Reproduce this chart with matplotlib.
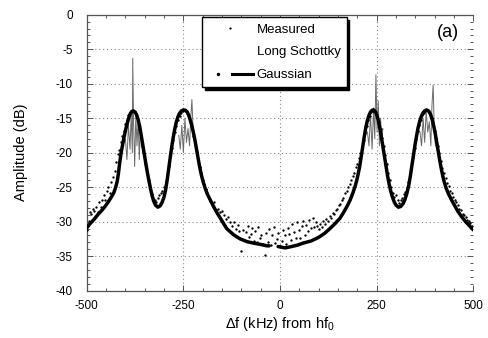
import numpy as np
import matplotlib
matplotlib.use("Agg")
import matplotlib.pyplot as plt
from matplotlib.lines import Line2D
from matplotlib.legend_handler import HandlerTuple
from matplotlib.ticker import MultipleLocator

plt.rcParams['font.family'] = ['Liberation Sans', 'DejaVu Sans']
plt.rcParams['mathtext.fontset'] = 'custom'
plt.rcParams['mathtext.rm'] = 'Liberation Sans'
plt.rcParams['mathtext.it'] = 'Liberation Sans'

# ---------------- data ----------------
x_ticks = [-500, -250, 0, 250, 500]
y_ticks = [0, -5, -10, -15, -20, -25, -30, -35, -40]

gauss_x = [-500, -490, -480, -470, -460, -450, -444, -436, -430, -425, -421, -418, -415, -411,
           -407, -403, -399, -395, -391, -387, -383, -379, -375, -371, -367, -363, -359, -355,
           -351, -347, -343, -339, -335, -331, -327, -322, -316, -310, -305, -300, -296, -292,
           -288, -284, -280, -276, -272, -268, -264, -260, -255, -250, -245, -240, -236, -232,
           -228, -224, -220, -216, -212, -208, -204, -199, -194, -188, -180, -172, -162, -151,
           -138, -120, -103, -85, -69, -50, -34, -28, np.nan,
           -5, 4, 13, 30, 45, 60, 80, 99, 115, 129, 142, 155, 165, 174, 181, 188, 194, 198, 202,
           206, 210, 214, 218, 222, 226, 230, 234, 238, 242, 246, 250, 254, 258, 262, 266, 270,
           274, 278, 282, 286, 290, 295, 300, 306, 312, 318, 323, 328, 333, 337, 341, 345, 349,
           353, 357, 361, 365, 369, 374, 379, 384, 389, 393, 397, 401, 405, 409, 413, 417, 421,
           425, 430, 436, 444, 452, 460, 470, 480, 490, 500]
gauss_y = [-30.9, -30.2, -29.6, -28.9, -28.3, -27.6, -27.1, -26.4, -25.8, -25.0, -24.1, -23.0,
           -21.6, -20.0, -18.8, -17.6, -16.6, -15.7, -14.9, -14.3, -14.0, -13.95, -14.1, -14.5,
           -15.2, -16.2, -17.5, -18.9, -20.3, -21.6, -22.9, -24.1, -25.2, -26.2, -27.0, -27.6,
           -27.9, -27.7, -27.2, -26.4, -25.4, -24.0, -22.3, -20.7, -19.1, -17.7, -16.5, -15.5,
           -14.8, -14.3, -13.95, -13.8, -13.85, -14.1, -14.6, -15.3, -16.1, -17.1, -18.2, -19.5,
           -20.8, -22.0, -23.1, -24.2, -25.1, -26.0, -26.9, -27.8, -28.8, -29.8, -31.0, -31.9,
           -32.5, -32.9, -33.1, -33.3, -33.5, -33.5, np.nan,
           -33.6, -33.7, -33.8, -33.6, -33.4, -33.1, -32.8, -32.3, -31.7, -31.0, -30.3, -29.5,
           -28.6, -27.7, -26.9, -25.9, -24.9, -24.1, -23.1, -22.0, -20.6, -19.1, -17.6, -16.3,
           -15.3, -14.6, -14.1, -13.85, -13.8, -14.0, -14.5, -15.3, -16.4, -17.7, -19.1, -20.6,
           -22.0, -23.3, -24.5, -25.5, -26.3, -27.1, -27.6, -27.9, -27.8, -27.4, -26.8, -25.9,
           -24.7, -23.4, -21.9, -20.4, -18.9, -17.6, -16.4, -15.5, -14.8, -14.3, -13.95, -13.8,
           -13.95, -14.4, -15.1, -16.0, -17.1, -18.4, -19.8, -21.1, -22.3, -23.4, -24.3, -25.2,
           -26.0, -26.9, -27.7, -28.5, -29.3, -30.0, -30.6, -31.2]

schottky_x = [-400, -396, -392, -388, -385, -382, -381, -379, -376, -373, -370, -367, -364, -361,
              -358, -355, np.nan,
              -262, -258, -254, -250, -246, -242, -238, -234, -231, -228, -225, -222, np.nan,
              226, 230, 234, 238, 242, 245, 248, 251, 254, 257, 260, 263, 266, np.nan,
              362, 366, 370, 374, 378, 382, 386, 390, 393, 396, 399, 402]
schottky_y = [-18, -21, -16, -19.5, -14.5, -20, -6.3, -15, -22, -14.5, -19, -15, -21, -16,
              -18, -20, np.nan,
              -17.5, -19.5, -16, -20, -15, -18.5, -16.5, -19, -15, -12.3, -16.5, -18, np.nan,
              -17, -19, -14.5, -19.5, -13.5, -18, -8.7, -17, -12.5, -19, -15, -18.5, -16.5, np.nan,
              -17, -19, -15, -18.5, -14, -17, -15.5, -19, -13, -10.2, -17, -19]

measured_x = [-498, -495, -492, -488, -485, -480, -476, -472, -468, -464, -460, -456, -452, -448,
              -444, -440, -436, -432, -428, -424, -420, -416, -412, -408, -404, -400, -396, -392,
              -388, -384, -380, -376, -372, -368, -364, -360, -356, -352, -348, -344, -340, -336,
              -332, -328, -324, -320, -316, -312, -308, -304, -300, -296, -292, -288, -284, -280,
              -276, -272, -268, -264, -260, -256, -252, -248, -244, -240, -236, -232, -228, -224,
              -220, -216, -212, -208, -204, -200, -196, -192, -188, -184, -180, -175, -170, -165,
              -160, -155, -150, -145, -140, -135, -130, -125, -120, -115, -110, -105, -100, -96,
              -92, -88, -84, -80, -76, -72, -68, -64, -60, -56, -52, -48, -44, -40, -36, -32, -28,
              -24, -20, -16, -12, -8, -4, 0, 4, 8, 12, 16, 20, 24, 28, 32, 36, 40, 44, 48, 52, 56,
              60, 64, 68, 72, 76, 80, 84, 88, 92, 96, 100, 104, 108, 112, 116, 120, 124, 128, 132,
              136, 140, 144, 148, 152, 156, 160, 164, 168, 172, 176, 180, 184, 188, 192, 196, 200,
              204, 208, 212, 216, 220, 224, 228, 232, 236, 240, 244, 248, 252, 256, 260, 264, 268,
              272, 276, 280, 284, 288, 292, 296, 300, 304, 308, 312, 316, 320, 324, 328, 332, 336,
              340, 344, 348, 352, 356, 360, 364, 368, 372, 376, 380, 384, 388, 392, 396, 400, 404,
              408, 412, 416, 420, 424, 428, 432, 436, 440, 444, 448, 452, 456, 460, 464, 468, 472,
              476, 480, 484, 488, 492, 496]
measured_y = [-31.2, -29.9, -28.6, -28.9, -28.2, -28.4, -27.9, -28.6, -27.2, -27.8, -26.8, -26.1,
              -26.9, -25.6, -25.0, -25.9, -24.3, -23.5, -22.6, -21.4, -20.2, -19.6, -18.5, -17.6,
              -16.8, -15.9, -15.2, -14.6, -14.2, -14.0, -13.9, -14.1, -14.6, -15.4, -16.5, -17.7,
              -19.0, -20.4, -21.6, -22.9, -24.0, -25.2, -26.0, -26.6, -26.9, -27.2, -26.6, -26.2,
              -25.8, -25.5, -25.0, -24.1, -23.2, -22.0, -20.6, -19.3, -18.2, -17.0, -16.1, -15.3,
              -14.7, -14.3, -14.0, -13.8, -13.9, -14.2, -14.8, -15.6, -16.6, -17.6, -18.8, -19.9,
              -21.0, -22.1, -23.0, -23.9, -24.6, -25.3, -25.8, -26.5, -27.0, -27.5, -27.2, -28.3,
              -28.2, -28.6, -28.5, -29.1, -29.6, -29.3, -30.1, -30.6, -30.0, -31.0, -30.5, -31.4,
              -34.2, -31.2, -32.6, -31.5, -30.6, -32.2, -31.8, -30.9, -32.8, -31.4, -33.0, -30.8,
              -32.3, -31.9, -33.2, -34.9, -31.7, -32.9, -31.1, -33.4, -32.0, -30.7, -33.1, -32.5,
              -31.6, -33.5, -32.8, -31.2, -32.0, -33.2, -30.9, -31.8, -32.6, -30.4, -31.5, -32.3,
              -30.1, -31.2, -32.4, -30.6, -29.9, -31.9, -30.5, -31.4, -29.8, -30.9, -29.5, -30.7,
              -30.0, -30.6, -31.0, -30.3, -30.8, -29.9, -30.4, -29.6, -29.9, -29.2, -29.5, -28.8,
              -28.9, -28.3, -28.1, -27.6, -27.4, -26.8, -26.5, -25.9, -25.6, -25.0, -24.6, -24.0,
              -23.4, -22.9, -22.1, -21.6, -20.8, -20.0, -19.1, -18.1, -17.2, -16.2, -15.3, -14.7,
              -14.1, -13.9, -13.9, -14.2, -14.8, -15.6, -16.6, -17.8, -19.0, -20.3, -21.6, -22.9,
              -24.0, -25.0, -25.8, -26.4, -26.2, -26.9, -27.3, -26.8, -26.5, -26.0, -25.7, -25.1,
              -24.2, -23.3, -22.0, -20.6, -19.3, -18.0, -16.9, -16.0, -15.2, -14.6, -14.2, -13.9,
              -13.8, -14.0, -14.4, -15.0, -15.8, -16.8, -17.9, -19.0, -20.1, -21.2, -22.2, -23.0,
              -23.7, -24.4, -24.9, -25.5, -25.9, -26.4, -26.8, -27.2, -27.6, -28.1, -28.3, -28.9,
              -29.0, -29.3, -29.7, -29.9, -30.2, -30.6]

# ---------------- figure ----------------
fig = plt.figure(figsize=(4.88, 3.38), dpi=100)
ax = fig.add_axes([0.1777, 0.140, 0.7923, 0.8165])

ax.plot(schottky_x, schottky_y, color='#6a6a6a', lw=0.7, zorder=2)
ax.plot(measured_x, measured_y, ls='none', marker='o', ms=1.7, mfc='k', mec='k', mew=0, zorder=3)
ax.plot(gauss_x, gauss_y, color='k', lw=2.5, solid_capstyle='round', solid_joinstyle='round',
        zorder=4)

ax.set_xlim(-500, 500)
ax.set_ylim(-40, 0)
ax.set_xticks(x_ticks)
ax.set_xticklabels([str(v) for v in x_ticks])
ax.set_yticks(y_ticks)
ax.set_yticklabels([str(v) for v in y_ticks])
ax.xaxis.set_minor_locator(MultipleLocator(50))
ax.yaxis.set_minor_locator(MultipleLocator(1))
ax.tick_params(which='both', direction='in', top=True, right=True, labelsize=8.5,
               color='#555555', width=0.7)
ax.tick_params(axis='y', which='major', pad=10)
ax.tick_params(axis='x', which='major', pad=7)
ax.tick_params(which='major', length=4)
ax.tick_params(which='minor', length=2.5)
ax.grid(True, which='major', ls=(0, (1, 2.5)), color='#888888', lw=0.8)
for s in ['left', 'bottom', 'top']:
    ax.spines[s].set_color('#555555')
    ax.spines[s].set_linewidth(0.9)
ax.spines['right'].set_visible(False)

ax.set_ylabel('Amplitude (dB)', fontsize=10.5)
ax.yaxis.set_label_coords(-0.152, 0.5)
ax.set_xlabel(r'Δf (kHz) from hf$_0$', fontsize=10.5, labelpad=2)

ax.text(0.935, 0.934, '(a)', transform=ax.transAxes, fontsize=13, ha='center', va='center')

h_meas = Line2D([], [], ls='none', marker='o', ms=1.6, mfc='k', mec='k', mew=0)
h_long = Line2D([], [], ls='none')
h_dot = Line2D([], [], ls='none', marker='o', ms=2.5, mfc='k', mec='k', mew=0)
h_line = Line2D([], [], color='k', lw=2.2)
leg = ax.legend([h_meas, h_long, (h_dot, h_line)], ['Measured', 'Long Schottky', 'Gaussian'],
                handler_map={tuple: HandlerTuple(ndivide=2, pad=0.2)},
                loc='upper left', bbox_to_anchor=(0.298, 0.990), fontsize=9.5,
                frameon=True, fancybox=False, shadow={'color': 'black', 'alpha': 1},
                handlelength=3.4, handletextpad=0.3, labelspacing=0.8, borderpad=0.45,
                borderaxespad=0.0)
leg.get_frame().set_edgecolor('black')
leg.get_frame().set_linewidth(1.0)
leg.set_zorder(10)

fig.savefig('out.png', dpi=100)
